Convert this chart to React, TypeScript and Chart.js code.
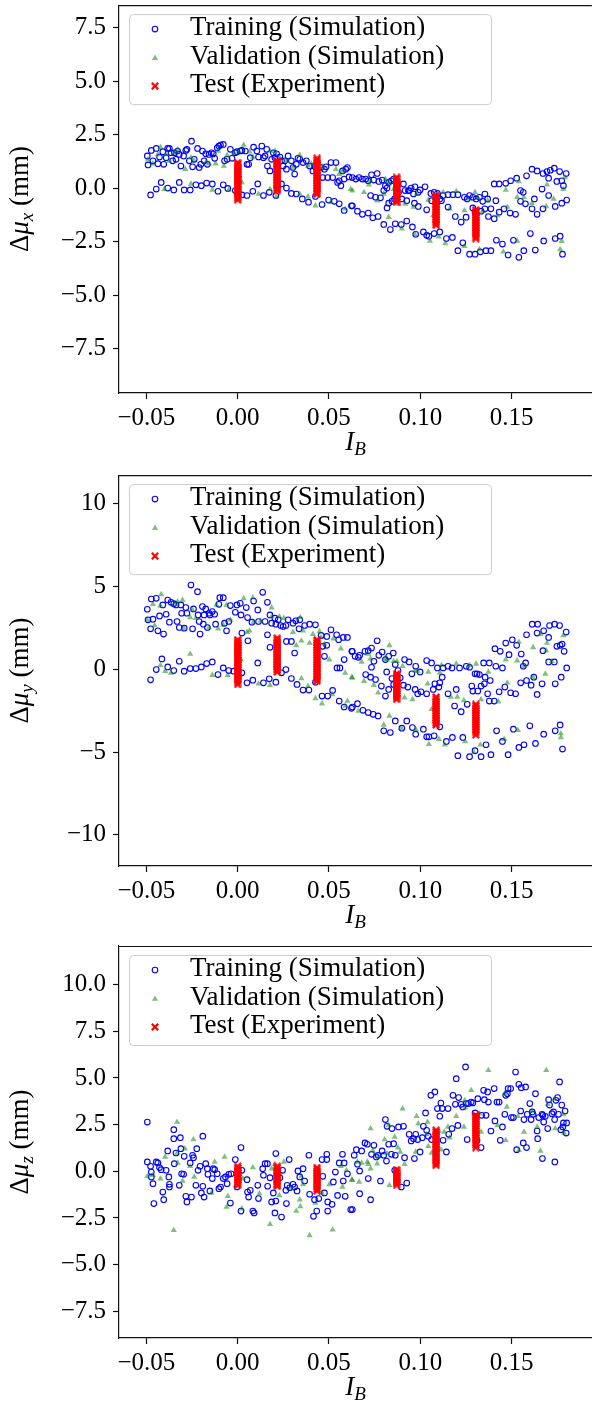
import React, { useEffect, useRef } from "react";
import { Chart, registerables } from "chart.js";

Chart.register(...registerables);

// ---------- shared axis data ----------
const X_TICKS = [-0.05, 0, 0.05, 0.1, 0.15];
const X_TICK_LABELS = ["−0.05", "0.00", "0.05", "0.10", "0.15"];
const X_MIN = -0.065;
const X_MAX = 0.194;
const TEST_X = [0, 0.0217, 0.0435, 0.087, 0.1087, 0.1304];
const LEGEND_LABELS = ["Training (Simulation)", "Validation (Simulation)", "Test (Experiment)"];

// ---------- panel 1 : Δμx ----------
const P1_Y_TICKS = [-7.5, -5, -2.5, 0, 2.5, 5, 7.5];
const P1_Y_LABELS = ["−7.5", "−5.0", "−2.5", "0.0", "2.5", "5.0", "7.5"];
const P1_TRAIN = [
[-0.0495,1.50],[-0.0491,1.08],[-0.0473,1.76],[-0.0464,1.27],[-0.0446,1.85],[-0.0437,1.14],[-0.0428,1.45],[-0.0410,1.70],[-0.0405,1.11],[-0.0392,1.42],[-0.0383,1.85],[-0.0374,1.85],[-0.0365,1.65],[-0.0356,1.27],[-0.0347,1.65],[-0.0338,1.34],[-0.0329,1.73],[-0.0320,1.57],[-0.0311,1.03],[-0.0296,1.50],[-0.0284,1.76],[-0.0278,1.81],[-0.0265,1.27],[-0.0253,2.19],[-0.0247,0.99],[-0.0238,1.34],[-0.0220,1.85],[-0.0211,0.96],[-0.0202,1.11],[-0.0193,1.73],[-0.0184,1.27],[-0.0175,1.60],[-0.0166,1.11],[-0.0157,1.57],[-0.0144,1.65],[-0.0134,1.60],[-0.0126,1.39],[-0.0112,1.88],[-0.0103,1.96],[-0.0094,2.01],[-0.0079,2.04],[-0.0072,1.27],[-0.0058,1.34],[-0.0040,1.81],[-0.0031,1.39],[-0.0013,1.65],[-0.0004,1.70],[0.0014,1.73],[0.0023,1.76],[0.0042,1.73],[0.0051,1.11],[0.0060,1.11],[0.0069,1.42],[0.0087,1.91],[0.0105,1.73],[0.0114,1.45],[0.0132,1.96],[0.0141,1.42],[0.0150,1.50],[0.0159,1.81],[0.0163,1.03],[0.0177,0.80],[0.0186,1.34],[0.0195,1.65],[0.0204,1.42],[0.0213,1.60],[0.0231,1.45],[0.0240,1.27],[0.0249,1.03],[0.0258,1.27],[0.0267,0.88],[0.0276,1.50],[0.0294,1.27],[0.0303,0.96],[0.0312,0.65],[0.0321,1.11],[0.0330,1.39],[0.0340,1.34],[0.0358,1.19],[0.0376,1.27],[0.0394,1.03],[0.0412,0.80],[0.0421,1.03],[0.0430,0.88],[0.0457,0.96],[0.0466,0.49],[0.0475,0.88],[0.0484,0.99],[0.0493,0.49],[0.0511,1.19],[0.0520,0.49],[0.0538,1.19],[0.0547,0.26],[0.0556,0.34],[0.0565,0.11],[0.0574,0.80],[0.0583,0.42],[0.0592,0.88],[0.0601,0.96],[0.0610,0.52],
[-0.0477,-0.32],[-0.0446,-0.05],[-0.0419,0.26],[-0.0383,0.00],[-0.0350,-0.09],[-0.0320,0.26],[-0.0293,-0.09],[-0.0260,-0.09],[-0.0229,0.15],[-0.0199,0.11],[-0.0170,0.23],[-0.0139,0.19],[-0.0108,-0.15],[-0.0079,0.15],[-0.0054,-0.02],[-0.0013,-0.12],[0.0023,-0.32],[0.0051,-0.35],[0.0083,-0.15],[0.0110,0.19],[0.0141,-0.35],[0.0173,-0.20],[0.0209,-0.35],[0.0240,0.19],[0.0267,0.00],[0.0294,-0.25],[0.0321,-0.28],[0.0354,-0.51],[0.0388,-0.66],[0.0426,-0.39],[0.0462,-0.77],[0.0498,-0.56],[0.0529,-0.62],[0.0556,-0.74],[0.0583,-1.05],[0.0623,-0.83],
[0.0628,0.49],[0.0647,0.42],[0.0665,0.49],[0.0683,0.42],[0.0701,0.42],[0.0715,0.34],[0.0733,0.62],[0.0745,0.37],[0.0764,0.68],[0.0773,0.31],[0.0791,0.37],[0.0800,-0.12],[0.0809,0.11],[0.0818,0.00],[0.0827,0.26],[0.0841,0.34],[0.0854,0.42],[0.0872,0.03],[0.0881,-0.20],[0.0908,0.19],[0.0917,-0.12],[0.0935,-0.12],[0.0950,0.00],[0.0963,-0.28],[0.0971,0.06],[0.0989,-0.20],[0.0999,-0.09],[0.1026,0.06],[0.1058,-0.25],[0.1076,-0.20],[0.1094,-0.25],[0.1107,-0.51],[0.1125,-0.35],[0.1152,-0.31],[0.1179,-0.31],[0.1206,-0.31],[0.1242,-0.43],[0.1257,-0.51],[0.1270,-0.35],[0.1288,-0.43],[0.1306,-0.51],[0.1324,-0.43],[0.1342,-0.62],[0.1354,-0.28],[0.1369,-0.51],[0.1387,-0.97],[0.1414,-0.59],[0.1405,0.19],[0.1432,0.19],[0.1468,0.22],[0.1495,0.34],[0.1528,0.46],[0.1549,-0.12],[0.1564,-0.20],[0.1582,0.57],[0.1612,0.88],[0.1640,0.80],[0.1667,-0.05],[0.1672,0.68],[0.1694,0.77],[0.1703,0.46],[0.1712,0.83],[0.1734,0.93],[0.1748,0.31],[0.1763,0.77],[0.1775,0.34],[0.1784,0.11],[0.1799,0.68],
[0.0628,-0.83],[0.0656,-1.08],[0.0683,-1.23],[0.0715,-1.17],[0.0740,-1.39],[0.0769,-1.33],[0.0728,-0.35],[0.0755,-0.43],[0.0782,-0.46],[0.0818,-0.93],[0.0827,-0.71],[0.0845,-0.62],[0.0859,-0.51],[0.0899,-0.51],[0.0926,-0.59],[0.0939,-0.12],[0.0968,-0.71],[0.0989,-0.86],[0.1035,-1.02],[0.1062,-0.59],[0.1089,-0.66],[0.1116,-0.59],[0.1152,-0.89],[0.1192,-1.33],[0.1224,-1.59],[0.1251,-1.36],[0.1288,-0.93],[0.1300,-1.13],[0.1333,-1.08],[0.1354,-0.97],[0.1373,-1.33],[0.1405,-1.43],[0.1432,-1.13],[0.1459,-0.97],[0.1492,-1.17],[0.1522,-1.23],[0.1549,-0.62],[0.1576,-0.74],[0.1612,-0.97],[0.1625,-0.51],[0.1640,-1.23],[0.1672,-0.97],[0.1703,-0.35],[0.1739,-0.86],[0.1775,-0.71],[0.1802,-0.56],
[0.0800,-1.70],[0.0836,-1.94],[0.0863,-1.67],[0.0896,-1.71],[0.0926,-1.54],[0.0957,-1.82],[0.0975,-2.16],[0.1017,-2.05],[0.1035,-2.21],[0.1047,-2.25],[0.1076,-2.13],[0.1107,-2.05],[0.1143,-2.36],[0.1176,-2.31],[0.1206,-2.93],[0.1233,-2.56],[0.1270,-3.09],[0.1300,-3.09],[0.1329,-2.98],[0.1360,-2.93],[0.1387,-2.93],[0.1417,-2.44],[0.1450,-2.62],[0.1481,-3.13],[0.1510,-2.44],[0.1540,-3.24],[0.1567,-2.93],[0.1603,-2.13],[0.1630,-2.90],[0.1676,-2.47],[0.1739,-2.36],[0.1766,-2.25],[0.1779,-3.09]
];
const P1_VALID = [
[-0.0491,1.34],[-0.0464,1.14],[-0.0437,1.57],[-0.0423,1.91],[-0.0392,1.57],[-0.0374,1.27],[-0.0347,1.65],[-0.0329,1.81],[-0.0287,0.88],[-0.0256,1.42],[-0.0238,1.27],[-0.0175,1.19],[-0.0157,1.14],[-0.0121,1.14],[-0.0107,1.73],[-0.0076,1.03],[-0.0058,1.54],[-0.0022,1.65],[0.0005,1.73],[0.0033,2.01],[0.0065,1.70],[0.0083,1.45],[0.0177,1.73],[0.0204,1.73],[0.0231,1.39],[0.0267,1.27],[0.0303,0.96],[0.0340,1.54],[0.0385,1.03],[0.0403,1.14],[0.0439,1.14],[0.0466,0.99],[0.0538,0.88],[0.0556,0.65],[0.0574,0.80],[0.0619,-0.05],
[-0.0401,-0.05],[-0.0256,0.19],[-0.0139,-0.09],[-0.0049,-0.09],[0.0023,0.26],[0.0114,-0.28],[0.0177,-0.05],[0.0213,-0.40],[0.0340,-0.28],[0.0385,-0.40],[0.0426,-0.82],[0.0511,-0.66],[0.0589,-0.97],
[0.0628,-0.12],[0.0692,-0.20],[0.0719,0.15],[0.0728,0.34],[0.0764,-0.59],[0.0800,-0.28],[0.0809,0.42],[0.0827,0.26],[0.0854,-0.05],[0.0881,-0.74],[0.0917,-0.74],[0.0963,-0.89],[0.0980,-0.28],[0.1044,-0.56],[0.1071,-1.28],[0.1125,-0.20],[0.1161,-0.97],[0.1197,-0.15],[0.1242,-1.05],[0.1260,-0.51],[0.1300,-0.20],[0.1315,-0.46],[0.1342,-1.08],[0.1369,-0.59],[0.1423,-1.28],[0.1468,-0.09],[0.1477,-0.89],[0.1531,-0.43],[0.1540,0.31],[0.1567,-0.43],[0.1612,-0.71],[0.1694,0.15],[0.1690,-0.86],[0.1730,-0.51],[0.1784,-0.05],[0.1793,0.49],
[0.0827,-1.36],[0.0899,-1.90],[0.0971,-2.16],[0.1053,-2.47],[0.1101,-2.28],[0.1137,-2.59],[0.1242,-2.72],[0.1324,-2.87],[0.1455,-2.98],[0.1531,-2.47],[0.1766,-2.87],[0.1775,-2.48]
];
const P1_TEST_Y = [
[1.19,1.12,1.05,0.97,0.90,0.81,0.74,0.66,0.60,0.52,0.43,0.37,0.29,0.20,0.14,0.06,-0.03,-0.10,-0.18,-0.26,-0.33,-0.41,-0.48,-0.55],
[1.27,1.19,1.12,1.04,0.96,0.90,0.82,0.74,0.67,0.60,0.52,0.45,0.37,0.30,0.22,0.15,0.08,0.00,-0.06,-0.12],
[1.39,1.31,1.24,1.16,1.08,1.00,0.93,0.85,0.78,0.70,0.62,0.55,0.47,0.39,0.32,0.24,0.16,0.09,0.01,-0.06,-0.13,-0.21,-0.28],
[0.50,0.43,0.35,0.28,0.20,0.12,0.05,-0.03,-0.10,-0.18,-0.26,-0.34,-0.42,-0.50,-0.58,-0.66],
[-0.35,-0.42,-0.50,-0.57,-0.65,-0.73,-0.80,-0.88,-0.96,-1.04,-1.11,-1.19,-1.27,-1.35,-1.43,-1.50,-1.58,-1.66,-1.74],
[-1.02,-1.10,-1.17,-1.25,-1.33,-1.40,-1.48,-1.56,-1.63,-1.71,-1.79,-1.86,-1.94,-2.02,-2.10,-2.18,-2.27,-2.36]
];

// ---------- panel 2 : Δμy ----------
const P2_Y_TICKS = [-10, -5, 0, 5, 10];
const P2_Y_LABELS = ["−10", "−5", "0", "5", "10"];
const P2_TRAIN = [
[-0.0495,3.62],[-0.0491,2.98],[-0.0477,2.44],[-0.0473,4.24],[-0.0464,3.02],[-0.0446,4.28],[-0.0437,2.32],[-0.0428,3.22],[-0.0410,3.88],[-0.0406,2.12],[-0.0392,3.32],[-0.0383,4.18],[-0.0374,2.84],[-0.0365,4.04],[-0.0350,3.96],[-0.0338,3.88],[-0.0332,2.88],[-0.0320,2.52],[-0.0311,3.88],[-0.0307,3.38],[-0.0293,2.48],[-0.0284,3.72],[-0.0278,3.38],[-0.0256,5.08],[-0.0247,2.44],[-0.0242,3.64],[-0.0220,4.68],[-0.0217,3.28],[-0.0211,2.88],[-0.0206,2.12],[-0.0193,3.78],[-0.0188,2.72],[-0.0184,3.28],[-0.0175,3.64],[-0.0166,2.52],[-0.0157,3.38],[-0.0152,3.28],[-0.0139,3.48],[-0.0126,3.32],[-0.0121,2.72],[-0.0103,3.92],[-0.0098,4.32],[-0.0079,4.32],[-0.0072,2.78],[-0.0061,2.32],[-0.0049,2.88],[-0.0040,3.84],[-0.0013,3.44],[-0.0004,3.88],[0.0014,3.98],[0.0018,3.28],[0.0023,2.18],[0.0047,3.72],[0.0054,3.12],[0.0056,1.72],[0.0078,2.84],[0.0087,4.12],[0.0110,3.58],[0.0114,2.88],[0.0137,4.64],[0.0150,2.88],[0.0163,4.04],[0.0177,3.28],[0.0186,2.78],[0.0204,3.08],[0.0209,2.72],[0.0222,2.98],[0.0235,2.64],[0.0249,2.58],[0.0264,2.64],[0.0276,2.98],[0.0303,2.78],[0.0318,2.92],[0.0336,2.44],[0.0340,2.98],[0.0367,2.64],[0.0394,2.72],[0.0426,2.68],[0.0457,2.04],[0.0466,1.38],[0.0488,1.98],[0.0488,1.44],[0.0511,2.38],[0.0542,2.08],[0.0553,1.78],[0.0578,1.92],[0.0583,0.58],[0.0601,1.92],[0.0625,1.08],
[0.0163,2.08],[0.0177,1.32],[0.0312,0.98],[0.0267,1.68],[0.0294,1.68],[0.0475,0.78],[0.0544,0.08],[0.0560,0.08],
[-0.0477,-0.64],[-0.0446,-0.02],[-0.0415,0.62],[-0.0383,0.14],[-0.0350,-0.08],[-0.0320,0.48],[-0.0293,-0.12],[-0.0260,0.04],[-0.0229,0.04],[-0.0199,0.14],[-0.0170,0.34],[-0.0139,0.44],[-0.0108,-0.32],[-0.0079,0.08],[-0.0049,-0.08],[-0.0022,-0.12],[0.0023,-0.22],[0.0051,-0.82],[0.0083,-0.66],[0.0110,0.38],[0.0141,-0.82],[0.0173,-0.58],[0.0209,-0.78],[0.0240,-0.22],[0.0264,-0.02],[0.0294,-0.56],[0.0325,-0.92],[0.0358,-1.26],[0.0390,-1.26],[0.0426,-0.78],[0.0462,-1.62],[0.0493,-1.62],[0.0520,-1.28],[0.0556,-1.92],[0.0583,-2.28],[0.0623,-2.36],
[0.0628,1.08],[0.0643,0.78],[0.0661,0.72],[0.0668,0.84],[0.0697,1.08],[0.0715,1.12],[0.0733,1.28],[0.0746,0.48],[0.0733,0.12],[0.0764,1.72],[0.0773,0.84],[0.0791,1.04],[0.0809,0.58],[0.0827,0.78],[0.0852,0.98],[0.0863,0.28],[0.0878,-0.08],[0.0701,-0.32],[0.0728,-0.48],[0.0755,-0.62],[0.0787,-1.02],[0.0816,-0.16],[0.0827,-1.22],[0.0809,-1.62],[0.0845,-0.56],[0.0854,-0.92],[0.0890,-0.52],[0.0908,-0.96],[0.0914,0.58],[0.0932,-1.08],[0.0939,0.44],[0.0954,-0.28],[0.0972,-1.22],[0.0975,0.18],[0.0986,-1.48],[0.0999,-0.16],[0.1004,-1.36],[0.1035,0.52],[0.1035,-1.48],[0.1062,0.38],[0.1071,-1.22],[0.1080,-0.88],[0.1094,0.08],[0.1102,-1.08],[0.1107,-0.82],[0.1120,-0.48],[0.1125,0.08],[0.1152,0.18],[0.1152,-1.48],[0.1174,0.08],[0.1188,-2.22],[0.1197,-1.22],[0.1215,0.08],[0.1224,-2.56],[0.1252,0.18],[0.1257,-2.12],[0.1270,0.12],[0.1282,-1.02],[0.1288,-1.32],[0.1300,-0.28],[0.1311,-0.28],[0.1315,-1.32],[0.1324,-0.32],[0.1333,-1.02],[0.1347,0.38],[0.1351,-0.88],[0.1355,-0.48],[0.1369,-1.48],[0.1378,0.38],[0.1383,-0.68],[0.1378,-1.92],[0.1405,-1.92],[0.1409,1.24],[0.1414,0.18],[0.1432,-1.36],[0.1438,1.08],[0.1450,0.08],[0.1463,-1.08],[0.1468,1.58],[0.1486,0.88],[0.1495,-1.42],[0.1504,1.78],[0.1522,-1.48],[0.1528,1.44],[0.1550,-0.82],[0.1553,0.92],[0.1564,0.18],[0.1577,0.38],[0.1582,2.08],[0.1582,-0.68],[0.1607,-0.96],[0.1613,2.72],[0.1622,-0.48],[0.1640,2.18],[0.1643,2.72],[0.1640,-1.52],[0.1667,-0.88],[0.1672,1.12],[0.1676,2.32],[0.1703,1.92],[0.1708,2.64],[0.1703,0.44],[0.1734,0.44],[0.1736,2.72],[0.1739,-0.88],[0.1748,1.38],[0.1763,2.64],[0.1766,1.44],[0.1772,-0.48],[0.1777,1.52],[0.1788,1.08],[0.1799,2.24],[0.1802,0.08],
[0.0628,-2.28],[0.0656,-2.08],[0.0686,-2.48],[0.0715,-2.62],[0.0742,-2.72],[0.0769,-2.82],[0.0800,-3.72],[0.0836,-3.82],[0.0863,-3.12],[0.0899,-3.56],[0.0926,-3.12],[0.0957,-3.52],[0.0975,-3.92],[0.1017,-3.62],[0.1035,-4.08],[0.1047,-4.08],[0.1076,-4.02],[0.1107,-3.48],[0.1143,-4.36],[0.1176,-4.12],[0.1206,-5.22],[0.1233,-4.12],[0.1270,-5.28],[0.1300,-4.92],[0.1333,-5.28],[0.1360,-4.56],[0.1387,-5.16],[0.1418,-3.72],[0.1450,-4.36],[0.1481,-5.16],[0.1510,-3.62],[0.1540,-4.72],[0.1568,-4.56],[0.1600,-3.42],[0.1631,-4.48],[0.1676,-3.92],[0.1739,-3.72],[0.1766,-3.36],[0.1779,-4.82]
];
const P2_VALID = [
[-0.0495,2.98],[-0.0464,3.92],[-0.0455,2.64],[-0.0419,4.52],[-0.0423,3.82],[-0.0347,3.94],[-0.0329,4.08],[-0.0302,4.18],[-0.0296,2.48],[-0.0260,3.12],[-0.0247,3.58],[-0.0229,3.08],[-0.0157,2.52],[-0.0116,3.88],[-0.0107,2.44],[-0.0079,2.68],[-0.0061,3.88],[-0.0040,2.98],[0.0033,4.28],[0.0051,2.24],[0.0065,2.32],[0.0083,4.32],[0.0087,2.84],[0.0126,2.92],[0.0186,3.72],[0.0186,3.18],[0.0228,3.18],[0.0253,3.08],[0.0303,2.24],[0.0321,1.44],[0.0343,3.12],[0.0349,1.72],[0.0358,2.32],[0.0394,1.58],[0.0412,2.12],[0.0448,2.28],[0.0457,1.92],[0.0475,1.52],[0.0502,0.58],[0.0524,1.84],[0.0565,1.24],[0.0589,-0.22],[0.0625,-0.48],
[-0.0260,0.92],[-0.0423,0.24],[-0.0397,-0.12],[-0.0365,-0.22],[-0.0139,-0.36],[-0.0054,-0.36],[0.0018,0.58],[0.0114,-0.88],[0.0177,-0.96],[0.0349,-0.56],[0.0385,-1.02],[0.0426,-1.76],[0.0462,-2.08],[0.0517,-1.52],[0.0589,-2.22],[0.0601,-1.92],
[0.0628,-0.52],[0.0661,-2.52],[0.0679,0.44],[0.0692,-0.72],[0.0715,0.92],[0.0728,0.64],[0.0746,-0.96],[0.0769,-1.42],[0.0800,-3.36],[0.0805,0.64],[0.0818,0.58],[0.0831,1.44],[0.0831,-2.82],[0.0854,0.48],[0.0872,0.48],[0.0896,-3.56],[0.0903,0.18],[0.0914,-1.72],[0.0957,-1.82],[0.0972,-0.08],[0.0975,-3.62],[0.0986,-0.12],[0.1044,-0.16],[0.1040,-0.88],[0.1047,-4.52],[0.1062,-2.42],[0.1102,-4.22],[0.1107,-0.22],[0.1116,0.24],[0.1134,-4.56],[0.1167,-1.68],[0.1203,-1.68],[0.1197,0.32],[0.1239,-1.88],[0.1246,-4.36],[0.1270,0.24],[0.1293,-5.02],[0.1306,0.32],[0.1329,-4.56],[0.1333,-1.82],[0.1373,-0.16],[0.1427,-1.96],[0.1459,-4.22],[0.1468,0.58],[0.1477,-0.82],[0.1531,0.52],[0.1535,-3.68],[0.1540,1.64],[0.1568,0.18],[0.1618,-0.48],[0.1618,1.32],[0.1658,2.12],[0.1685,-0.28],[0.1694,1.58],[0.1690,1.12],[0.1721,0.48],[0.1770,-3.88],[0.1770,-4.12],[0.1784,2.04]
];
const P2_TEST_Y = [
[1.78,1.68,1.58,1.48,1.37,1.27,1.17,1.07,0.97,0.86,0.76,0.66,0.56,0.45,0.35,0.25,0.15,0.04,-0.06,-0.17,-0.27,-0.37,-0.47,-0.58,-0.68,-0.80,-0.92],
[1.88,1.78,1.67,1.57,1.47,1.37,1.26,1.16,1.06,0.95,0.85,0.75,0.64,0.54,0.44,0.33,0.23,0.13,0.03,-0.06,-0.16],
[1.78,1.68,1.58,1.47,1.37,1.27,1.16,1.06,0.96,0.86,0.75,0.65,0.55,0.44,0.34,0.24,0.13,0.03,-0.08,-0.18,-0.29,-0.40,-0.51,-0.62,-0.72],
[-0.28,-0.38,-0.48,-0.58,-0.68,-0.79,-0.89,-0.99,-1.09,-1.20,-1.30,-1.41,-1.51,-1.62,-1.72,-1.82],
[-1.68,-1.78,-1.89,-1.99,-2.10,-2.20,-2.31,-2.41,-2.52,-2.62,-2.73,-2.83,-2.94,-3.04,-3.15,-3.25,-3.36],
[-2.12,-2.22,-2.33,-2.43,-2.54,-2.64,-2.75,-2.85,-2.96,-3.06,-3.17,-3.27,-3.38,-3.48,-3.59,-3.70,-3.82,-3.96]
];

// ---------- panel 3 : Δμz ----------
const P3_Y_TICKS = [-7.5, -5, -2.5, 0, 2.5, 5, 7.5, 10];
const P3_Y_LABELS = ["−7.5", "−5.0", "−2.5", "0.0", "2.5", "5.0", "7.5", "10.0"];
const P3_TRAIN = [
[-0.0495,2.64],[-0.0495,0.50],[-0.0477,0.27],[-0.0473,-0.04],[-0.0473,-0.30],[-0.0464,-0.66],[-0.0459,-1.73],[-0.0446,0.50],[-0.0437,0.45],[-0.0428,0.20],[-0.0419,0.09],[-0.0410,-1.11],[-0.0405,-1.52],[-0.0392,0.05],[-0.0383,1.09],[-0.0377,-0.30],[-0.0374,-0.70],[-0.0374,-0.84],[-0.0350,1.75],[-0.0350,2.23],[-0.0347,0.41],[-0.0338,0.98],[-0.0320,-0.75],[-0.0314,1.80],[-0.0311,1.21],[-0.0307,-0.13],[-0.0296,-0.16],[-0.0293,0.80],[-0.0284,-1.34],[-0.0278,-1.64],[-0.0260,0.45],[-0.0253,-1.38],[-0.0247,0.86],[-0.0242,0.73],[-0.0229,-0.75],[-0.0224,1.21],[-0.0217,0.05],[-0.0206,0.27],[-0.0199,-1.16],[-0.0191,1.88],[-0.0191,-0.80],[-0.0184,-1.38],[-0.0175,0.41],[-0.0166,0.14],[-0.0163,-0.16],[-0.0152,-1.05],[-0.0139,-0.39],[-0.0134,0.14],[-0.0126,0.09],[-0.0112,-0.13],[-0.0103,-0.93],[-0.0094,-0.84],[-0.0079,-0.39],[-0.0067,-0.30],[-0.0058,-0.66],[-0.0049,-0.16],[-0.0040,-1.70],[-0.0036,-0.13],[-0.0013,0.63],[-0.0004,-0.84],[0.0018,1.27],[0.0018,-2.13],[0.0023,0.05],[0.0051,-0.45],[0.0054,-1.11],[0.0060,-1.38],[0.0069,-1.02],[0.0083,-2.13],[0.0090,-2.23],[0.0110,-0.75],[0.0114,-1.46],[0.0137,0.14],[0.0141,-0.21],[0.0150,0.41],[0.0163,0.41],[0.0164,-0.80],[0.0177,-0.34],[0.0186,-1.64],[0.0195,-1.16],[0.0204,-2.23],[0.0209,0.95],[0.0209,-1.59],[0.0231,-0.34],[0.0240,-2.45],[0.0246,0.05],[0.0264,-1.02],[0.0267,-1.73],[0.0271,-0.75],[0.0282,0.63],[0.0285,-0.88],[0.0303,-0.70],[0.0312,-0.84],[0.0325,-1.05],[0.0330,0.02],[0.0340,-0.30],[0.0358,0.14],[0.0367,-0.52],[0.0390,0.86],[0.0394,-1.23],[0.0415,-2.41],[0.0421,-1.52],[0.0433,-2.13],[0.0444,-1.46],[0.0462,0.63],[0.0466,-0.27],[0.0475,-1.16],[0.0488,0.63],[0.0488,0.91],[0.0493,-1.64],[0.0493,-2.13],[0.0517,-1.77],[0.0524,-0.57],[0.0535,-0.04],[0.0547,-1.29],[0.0556,0.45],[0.0574,0.91],[0.0578,-0.52],[0.0583,0.45],[0.0589,-1.34],[0.0601,-0.13],[0.0619,-2.05],
[0.0628,-2.05],[0.0638,0.86],[0.0650,1.16],[0.0656,0.38],[0.0668,0.02],[0.0668,-1.20],[0.0679,1.09],[0.0697,1.52],[0.0710,1.45],[0.0715,-0.39],[0.0728,-1.52],[0.0733,0.91],[0.0746,1.39],[0.0759,0.77],[0.0769,0.86],[0.0782,-0.52],[0.0791,1.09],[0.0800,0.86],[0.0809,2.77],[0.0815,0.55],[0.0818,2.41],[0.0827,1.45],[0.0842,0.91],[0.0845,2.29],[0.0854,1.48],[0.0863,0.86],[0.0860,0.05],[0.0881,2.38],[0.0896,-0.84],[0.0908,2.41],[0.0914,0.73],[0.0926,-0.63],[0.0939,1.98],[0.0950,1.63],[0.0963,1.75],[0.0968,0.68],[0.0975,1.98],[0.0986,1.70],[0.0999,1.04],[0.1011,1.80],[0.1017,2.41],[0.1029,3.13],[0.1035,2.20],[0.1044,1.88],[0.1058,4.07],[0.1062,1.70],[0.1080,4.25],[0.1094,3.36],[0.1107,2.95],[0.1113,3.66],[0.1120,3.36],[0.1125,1.66],[0.1143,1.04],[0.1152,3.36],[0.1156,1.98],[0.1174,2.29],[0.1179,4.07],[0.1192,3.59],[0.1197,4.96],[0.1206,2.46],[0.1210,3.95],[0.1224,3.59],[0.1233,3.45],[0.1248,5.59],[0.1252,3.63],[0.1257,1.70],[0.1264,3.63],[0.1279,3.71],[0.1288,3.66],[0.1300,3.13],[0.1306,2.95],[0.1311,1.66],[0.1315,3.89],[0.1333,1.27],[0.1336,3.00],[0.1347,4.34],[0.1351,3.84],[0.1360,3.00],[0.1369,4.25],[0.1373,3.71],[0.1387,2.16],[0.1405,4.43],[0.1409,2.70],[0.1420,3.71],[0.1432,3.71],[0.1438,1.66],[0.1450,2.38],[0.1463,3.05],[0.1468,4.07],[0.1477,4.16],[0.1481,4.43],[0.1495,4.43],[0.1499,2.88],[0.1510,2.88],[0.1522,5.32],[0.1528,1.16],[0.1540,4.66],[0.1550,3.23],[0.1553,4.48],[0.1564,1.52],[0.1568,2.77],[0.1577,4.52],[0.1582,1.27],[0.1586,3.05],[0.1600,3.63],[0.1607,2.77],[0.1613,3.18],[0.1618,3.05],[0.1631,4.16],[0.1640,2.16],[0.1643,1.75],[0.1649,2.88],[0.1667,3.05],[0.1669,0.68],[0.1672,3.00],[0.1676,2.64],[0.1685,2.95],[0.1698,2.29],[0.1703,3.84],[0.1708,3.55],[0.1721,3.09],[0.1730,3.18],[0.1736,2.77],[0.1737,0.50],[0.1743,3.80],[0.1752,3.95],[0.1757,3.05],[0.1763,4.79],[0.1770,2.23],[0.1775,3.55],[0.1781,2.38],[0.1784,2.59],[0.1793,3.23],[0.1799,2.05],[0.1802,2.59]
];
const P3_VALID = [
[-0.0495,-0.27],[-0.0464,-0.21],[-0.0423,-0.39],[-0.0397,0.77],[-0.0350,-3.16],[-0.0332,2.64],[-0.0332,0.98],[-0.0329,0.45],[-0.0302,-0.52],[-0.0289,1.21],[-0.0260,0.27],[-0.0242,1.70],[-0.0238,-0.30],[-0.0144,-1.16],[-0.0126,0.50],[-0.0072,0.77],[-0.0061,-1.91],[-0.0054,-1.34],[0.0023,-2.00],[0.0029,-0.39],[0.0083,0.20],[0.0119,-1.20],[0.0177,-2.84],[0.0186,0.14],[0.0204,0.38],[0.0228,-1.29],[0.0253,0.50],[0.0294,-0.93],[0.0321,-2.13],[0.0340,-1.52],[0.0343,-1.88],[0.0349,-0.27],[0.0358,-0.70],[0.0394,-3.43],[0.0426,-1.70],[0.0462,-1.16],[0.0502,-0.70],[0.0520,-3.13],[0.0565,0.27],[0.0574,-0.84],[0.0596,0.05],[0.0625,-0.45],
[0.0628,-0.48],[0.0656,0.50],[0.0665,-0.57],[0.0679,0.45],[0.0710,0.50],[0.0715,0.38],[0.0728,2.29],[0.0728,0.14],[0.0740,1.09],[0.0764,0.41],[0.0769,0.80],[0.0805,1.70],[0.0818,0.95],[0.0827,2.46],[0.0831,-0.75],[0.0860,1.84],[0.0872,-0.30],[0.0878,1.27],[0.0890,1.04],[0.0903,3.36],[0.0914,0.38],[0.0975,1.04],[0.0980,2.95],[0.0989,2.55],[0.1040,2.64],[0.1035,1.98],[0.1044,1.34],[0.1062,0.98],[0.1094,1.70],[0.1102,2.16],[0.1113,1.16],[0.1131,2.11],[0.1152,2.38],[0.1161,1.80],[0.1197,2.95],[0.1239,2.38],[0.1243,3.80],[0.1246,3.41],[0.1279,4.34],[0.1311,2.59],[0.1324,3.09],[0.1333,2.11],[0.1373,5.41],[0.1423,2.46],[0.1463,4.16],[0.1468,1.66],[0.1474,3.45],[0.1535,2.95],[0.1540,1.13],[0.1568,2.11],[0.1613,3.23],[0.1640,2.38],[0.1658,1.09],[0.1690,5.41],[0.1698,3.59],[0.1734,3.88],[0.1739,2.29],[0.1784,3.05],[0.1788,2.05]
];
const P3_TEST_Y = [
[0.27,0.18,0.09,0.00,-0.09,-0.18,-0.27,-0.36,-0.46,-0.55,-0.65,-0.75],
[0.27,0.18,0.09,0.00,-0.09,-0.19,-0.28,-0.38,-0.47,-0.57,-0.66,-0.72,-0.80],
[0.20,0.11,0.02,-0.07,-0.16,-0.26,-0.35,-0.45,-0.54,-0.64,-0.74,-0.85,-0.95,-1.05],
[0.09,0.00,-0.09,-0.18,-0.28,-0.37,-0.46,-0.56,-0.65,-0.75],
[2.20,2.11,2.01,1.90,1.81,1.70,1.61,1.50,1.41,1.30,1.20,1.11,1.00,0.91,0.80,0.71,0.60,0.52,0.42,0.32],
[3.00,2.91,2.81,2.72,2.62,2.53,2.43,2.34,2.24,2.15,2.05,1.96,1.86,1.77,1.66,1.52,1.41,1.27]
];

// ---------- styling / layout ----------
const FONT = '"Liberation Serif", "Times New Roman", serif';
const TICK_SIZE = 25;
const TEXT_SIZE = 27;
const SUB_SIZE = 19;
const SPINE = "#111111";
const SPINE_W = 1.2;
const TRAIN_COLOR = "#0000ff";
const VALID_COLOR = "rgba(0,128,0,0.5)";
const TEST_COLOR = "#ff0000";
const W = 597;

const PANELS = [
  { sub: "x", train: P1_TRAIN, valid: P1_VALID, test: P1_TEST_Y, yTicks: P1_Y_TICKS, yLabels: P1_Y_LABELS, yMin: -9.58, yMax: 8.55, canvasTop: 0, canvasH: 470, areaTop: 1, areaBottom: 393 },
  { sub: "y", train: P2_TRAIN, valid: P2_VALID, test: P2_TEST_Y, yTicks: P2_Y_TICKS, yLabels: P2_Y_LABELS, yMin: -11.88, yMax: 11.72, canvasTop: 470, canvasH: 470, areaTop: 3, areaBottom: 396 },
  { sub: "z", train: P3_TRAIN, valid: P3_VALID, test: P3_TEST_Y, yTicks: P3_Y_TICKS, yLabels: P3_Y_LABELS, yMin: -8.93, yMax: 12.07, canvasTop: 940, canvasH: 461, areaTop: 6, areaBottom: 398 },
];

function makeXMarker(color: string): HTMLCanvasElement {
  const s = 8;
  const c = document.createElement("canvas");
  c.width = s;
  c.height = s;
  const g = c.getContext("2d")!;
  const k = s / 8;
  const pts = [[0, 1.6], [1.6, 0], [4, 2.4], [6.4, 0], [8, 1.6], [5.6, 4], [8, 6.4], [6.4, 8], [4, 5.6], [1.6, 8], [0, 6.4], [2.4, 4]];
  g.fillStyle = color;
  g.beginPath();
  pts.forEach(([x, y], i) => (i ? g.lineTo(x * k, y * k) : g.moveTo(x * k, y * k)));
  g.closePath();
  g.fill();
  return c;
}

function roundRectPath(ctx: CanvasRenderingContext2D, x: number, y: number, w: number, h: number, r: number) {
  ctx.beginPath();
  ctx.moveTo(x + r, y);
  ctx.lineTo(x + w - r, y);
  ctx.arcTo(x + w, y, x + w, y + r, r);
  ctx.lineTo(x + w, y + h - r);
  ctx.arcTo(x + w, y + h, x + w - r, y + h, r);
  ctx.lineTo(x + r, y + h);
  ctx.arcTo(x, y + h, x, y + h - r, r);
  ctx.lineTo(x, y + r);
  ctx.arcTo(x, y, x + r, y, r);
  ctx.closePath();
}

function drawTriangle(ctx: CanvasRenderingContext2D, x: number, y: number, r: number) {
  ctx.beginPath();
  ctx.moveTo(x, y - r);
  ctx.lineTo(x + r * 0.866, y + r * 0.5);
  ctx.lineTo(x - r * 0.866, y + r * 0.5);
  ctx.closePath();
}

type Seg = { t: string; f: string; dy: number };

function drawSegments(ctx: CanvasRenderingContext2D, segs: Seg[], cx: number, baseY: number) {
  let total = 0;
  segs.forEach((s) => {
    ctx.font = s.f;
    total += ctx.measureText(s.t).width;
  });
  let x = cx - total / 2;
  ctx.textAlign = "left";
  ctx.textBaseline = "alphabetic";
  segs.forEach((s) => {
    ctx.font = s.f;
    ctx.fillText(s.t, x, baseY + s.dy);
    x += ctx.measureText(s.t).width;
  });
}

function decorPlugin(cfg: any, xImg: HTMLCanvasElement) {
  return {
    id: "decor",
    afterDraw(chart: any) {
      const ctx: CanvasRenderingContext2D = chart.ctx;
      const a = chart.chartArea;
      ctx.save();
      // top spine
      ctx.strokeStyle = SPINE;
      ctx.lineWidth = SPINE_W;
      ctx.beginPath();
      ctx.moveTo(a.left, a.top + 0.5);
      ctx.lineTo(a.right, a.top + 0.5);
      ctx.stroke();

      // legend frame
      const lx = a.left + 10.5;
      const ly = a.top + 9.5;
      roundRectPath(ctx, lx, ly, 362, 90, 4);
      ctx.fillStyle = "rgba(255,255,255,0.8)";
      ctx.fill();
      ctx.strokeStyle = "#cccccc";
      ctx.lineWidth = 1;
      ctx.stroke();

      const rows = [a.top + 24, a.top + 52.5, a.top + 81];
      const mx = a.left + 36;
      const tx = a.left + 71;
      // markers
      ctx.beginPath();
      ctx.arc(mx, rows[0], 2.8, 0, Math.PI * 2);
      ctx.strokeStyle = TRAIN_COLOR;
      ctx.lineWidth = 1.1;
      ctx.stroke();
      drawTriangle(ctx, mx, rows[1] + 0.5, 3.6);
      ctx.fillStyle = VALID_COLOR;
      ctx.fill();
      ctx.drawImage(xImg, mx - xImg.width / 2, rows[2] - xImg.height / 2);
      // labels
      ctx.fillStyle = "#000";
      ctx.font = `${TEXT_SIZE}px ${FONT}`;
      ctx.textAlign = "left";
      ctx.textBaseline = "middle";
      LEGEND_LABELS.forEach((t, i) => ctx.fillText(t, tx, rows[i] - 1));

      // x-axis title  I_B
      drawSegments(
        ctx,
        [
          { t: "I", f: `italic ${TEXT_SIZE}px ${FONT}`, dy: 0 },
          { t: "B", f: `italic ${SUB_SIZE}px ${FONT}`, dy: 5 },
        ],
        (a.left + a.right) / 2,
        a.bottom + 57
      );

      // y-axis title  Δμ_sub (mm)
      ctx.save();
      ctx.translate(28, (a.top + a.bottom) / 2);
      ctx.rotate(-Math.PI / 2);
      drawSegments(
        ctx,
        [
          { t: "Δ", f: `${TEXT_SIZE}px ${FONT}`, dy: 0 },
          { t: "μ", f: `italic ${TEXT_SIZE}px ${FONT}`, dy: 0 },
          { t: cfg.sub, f: `italic ${SUB_SIZE}px ${FONT}`, dy: 5 },
          { t: " (mm)", f: `${TEXT_SIZE}px ${FONT}`, dy: 0 },
        ],
        0,
        0
      );
      ctx.restore();
      ctx.restore();
    },
  };
}

function Panel({ cfg }: { cfg: any }) {
  const ref = useRef<HTMLCanvasElement | null>(null);
  useEffect(() => {
    if (!ref.current) return;
    const xImg = makeXMarker(TEST_COLOR);
    const testData: { x: number; y: number }[] = [];
    TEST_X.forEach((x, i) => cfg.test[i].forEach((y: number) => testData.push({ x, y })));
    const tickFont = { family: FONT, size: TICK_SIZE };
    const chart = new Chart(ref.current, {
      type: "scatter",
      data: {
        datasets: [
          {
            label: LEGEND_LABELS[0],
            data: cfg.train.map(([x, y]: number[]) => ({ x, y })),
            pointStyle: "circle",
            pointRadius: 2.8,
            pointBorderWidth: 1.1,
            pointBorderColor: TRAIN_COLOR,
            pointBackgroundColor: "rgba(0,0,0,0)",
            order: 3,
          },
          {
            label: LEGEND_LABELS[1],
            data: cfg.valid.map(([x, y]: number[]) => ({ x, y })),
            pointStyle: "triangle",
            pointRadius: 3.6,
            pointBorderWidth: 0,
            pointBorderColor: VALID_COLOR,
            pointBackgroundColor: VALID_COLOR,
            order: 2,
          },
          {
            label: LEGEND_LABELS[2],
            data: testData,
            pointStyle: xImg,
            pointRadius: 4,
            order: 1,
          },
        ],
      },
      options: {
        animation: false,
        responsive: false,
        devicePixelRatio: 1,
        events: [],
        layout: { padding: { top: cfg.areaTop, left: 0, right: 0, bottom: 0 } },
        plugins: { legend: { display: false }, tooltip: { enabled: false } },
        scales: {
          x: {
            type: "linear",
            min: X_MIN,
            max: X_MAX,
            afterBuildTicks: (s: any) => {
              s.ticks = X_TICKS.map((v) => ({ value: v }));
            },
            afterFit: (s: any) => {
              s.height = cfg.canvasH - cfg.areaBottom;
              s.paddingLeft = 0;
              s.paddingRight = 0;
              s.paddingTop = 0;
              s.paddingBottom = 0;
            },
            ticks: {
              autoSkip: false,
              maxRotation: 0,
              padding: 4,
              color: "#000",
              font: tickFont,
              callback: (_v: any, i: number) => X_TICK_LABELS[i],
            },
            grid: { display: true, drawOnChartArea: false, drawTicks: true, tickLength: 6, tickWidth: SPINE_W, tickColor: SPINE, color: SPINE },
            border: { display: true, color: SPINE, width: SPINE_W },
          },
          y: {
            type: "linear",
            min: cfg.yMin,
            max: cfg.yMax,
            afterBuildTicks: (s: any) => {
              s.ticks = cfg.yTicks.map((v: number) => ({ value: v }));
            },
            afterFit: (s: any) => {
              s.width = 119;
              s.paddingLeft = 0;
              s.paddingRight = 0;
              s.paddingTop = 0;
              s.paddingBottom = 0;
            },
            ticks: {
              autoSkip: false,
              padding: 7,
              color: "#000",
              font: tickFont,
              callback: (_v: any, i: number) => cfg.yLabels[i],
            },
            grid: { display: true, drawOnChartArea: false, drawTicks: true, tickLength: 6, tickWidth: SPINE_W, tickColor: SPINE, color: SPINE },
            border: { display: true, color: SPINE, width: SPINE_W },
          },
        },
      },
      plugins: [decorPlugin(cfg, xImg)],
    } as any);
    return () => chart.destroy();
  }, [cfg]);
  return (
    <canvas
      ref={ref}
      width={W}
      height={cfg.canvasH}
      style={{ position: "absolute", left: 0, top: cfg.canvasTop, width: W, height: cfg.canvasH, display: "block" }}
    />
  );
}

export default function App() {
  return (
    <div style={{ position: "absolute", left: 0, top: 0, width: W, height: 1401, overflow: "hidden", background: "#fff" }}>
      {PANELS.map((cfg, i) => (
        <Panel key={i} cfg={cfg} />
      ))}
    </div>
  );
}
